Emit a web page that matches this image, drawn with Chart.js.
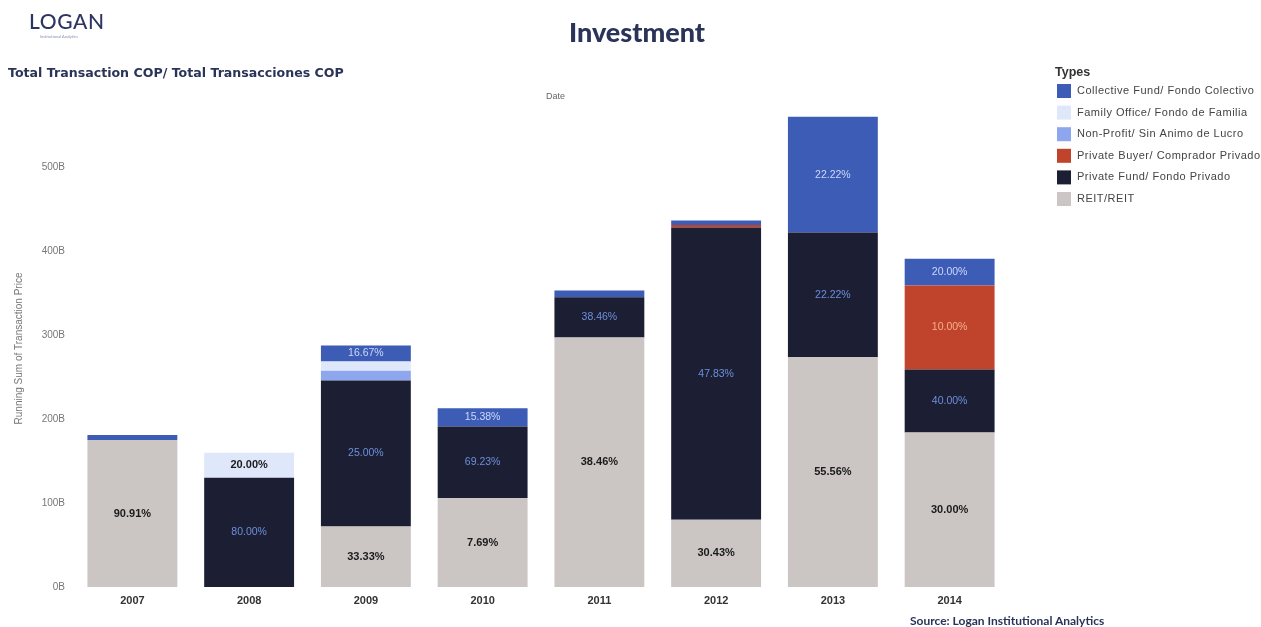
<!DOCTYPE html>
<html>
<head>
<meta charset="utf-8">
<script src="https://cdn.jsdelivr.net/npm/chart.js@4.4.1/dist/chart.umd.min.js"></script>
<style>
  body { margin: 0; background: #fff; }
  #wrap { position: relative; width: 1261px; height: 627px; overflow: hidden; }
  #investment { position: absolute; left: 0; top: 0; }
  .txt { position: absolute; white-space: nowrap; }
  #logo { left: 29px; top: 8px; font: 500 21px Lato, sans-serif; color: #2e3563; letter-spacing: 0.6px; }
  #logoSub { left: 40px; top: 34px; font: 4px Lato, sans-serif; color: #8a90b0; }
  #title { left: 0; width: 1274px; text-align: center; top: 15px; font: 900 27px Lato, sans-serif; color: #2a3358; }
  #subtitle { left: 8px; top: 65px; font: bold 12.6px "DejaVu Sans", sans-serif; color: #2a3358; }
  #dateLbl { left: 546px; top: 91px; font: 9px "Liberation Sans", Arial, sans-serif; color: #666; }
  #source { left: 910px; top: 613px; font: 700 12px Lato, sans-serif; color: #2a3358; }
</style>
</head>
<body>
<div id="wrap">
  <canvas id="investment" width="1261" height="627"></canvas>
  <div class="txt" id="logo">LOGAN</div>
  <div class="txt" id="logoSub">Institutional Analytics</div>
  <div class="txt" id="title">Investment</div>
  <div class="txt" id="subtitle">Total Transaction COP/ Total Transacciones COP</div>
  <div class="txt" id="dateLbl">Date</div>
  <div class="txt" id="source">Source: Logan Institutional Analytics</div>
</div>
<script>
// Years on the x axis
var years = ['2007', '2008', '2009', '2010', '2011', '2012', '2013', '2014'];

// Running sum of transaction price per type, in billions COP
var reit          = [175, 0, 72, 106, 297, 80, 274, 184];
var privateFund   = [0, 130, 174, 85, 48, 348, 148, 75];
var privateBuyer  = [0, 0, 0, 0, 0, 3, 0, 100];
var nonProfit     = [0, 0, 11.5, 0, 0, 0, 0, 0];
var familyOffice  = [0, 30, 11, 0, 0, 0, 0, 0];
var collective    = [6, 0, 19, 22, 8, 5.5, 138, 32];

// Share labels printed inside the segments ('' = no label)
var reitPct         = ['90.91%', '', '33.33%', '7.69%', '38.46%', '30.43%', '55.56%', '30.00%'];
var privateFundPct  = ['', '80.00%', '25.00%', '69.23%', '38.46%', '47.83%', '22.22%', '40.00%'];
var privateBuyerPct = ['', '', '', '', '', '', '', '10.00%'];
var nonProfitPct    = ['', '', '', '', '', '', '', ''];
var familyOfficePct = ['', '20.00%', '', '', '', '', '', ''];
var collectivePct   = ['', '', '16.67%', '15.38%', '', '', '22.22%', '20.00%'];

// Y axis tick values
var yTicks = [0, 100, 200, 300, 400, 500];

// Stack order bottom -> top
var series = [
    { label: 'REIT/REIT', data: reit, pct: reitPct, color: '#cbc5c4', text: '#1a1a1a', bold: true },
    { label: 'Private Fund/ Fondo Privado', data: privateFund, pct: privateFundPct, color: '#1c1f33', text: '#6d8fdc', bold: false },
    { label: 'Private Buyer/ Comprador Privado', data: privateBuyer, pct: privateBuyerPct, color: '#c0432b', text: '#f4b090', bold: false },
    { label: 'Non-Profit/ Sin Animo de Lucro', data: nonProfit, pct: nonProfitPct, color: '#8ea6ee', text: '#1a1a1a', bold: false },
    { label: 'Family Office/ Fondo de Familia', data: familyOffice, pct: familyOfficePct, color: '#dfe8fb', text: '#1a1a1a', bold: true },
    { label: 'Collective Fund/ Fondo Colectivo', data: collective, pct: collectivePct, color: '#3c5cb6', text: '#cdd8fa', bold: false }
];

// Percent labels centred in each segment
var segmentLabels = {
    id: 'segmentLabels',
    afterDatasetsDraw: function(chart) {
        var c = chart.ctx;
        c.save();
        c.textAlign = 'center';
        c.textBaseline = 'middle';
        series.forEach(function(s, i) {
            var meta = chart.getDatasetMeta(i);
            meta.data.forEach(function(bar, j) {
                var txt = s.pct[j];
                if (!txt) return;
                c.font = (s.bold ? 'bold 11px' : '10.5px') + ' "Liberation Sans", Arial, sans-serif';
                c.fillStyle = s.text;
                c.fillText(txt, bar.x, (bar.y + bar.base) / 2);
            });
        });
        c.restore();
    }
};

// "Types" legend on the right, listed top of stack first
var typesLegend = {
    id: 'typesLegend',
    afterDraw: function(chart) {
        var c = chart.ctx;
        var x = 1057, y = 91, step = 21.6;
        c.save();
        c.fillStyle = '#333';
        c.font = 'bold 12.5px "Liberation Sans", Arial, sans-serif';
        c.textBaseline = 'middle';
        c.fillText('Types', 1055, 73);
        c.font = '11px "Liberation Sans", Arial, sans-serif';
        c.letterSpacing = '0.5px';
        series.slice().reverse().forEach(function(s, k) {
            var cy = y + k * step;
            c.fillStyle = s.color;
            c.fillRect(x, cy - 7, 14, 14);
            c.fillStyle = '#444';
            c.fillText(s.label, x + 20, cy);
        });
        c.restore();
    }
};

var ctx = document.getElementById('investment').getContext('2d');

var myChart = new Chart(ctx, {
    type: 'bar',
    data: {
        labels: years,
        datasets: series.map(function(s) {
            return {
                label: s.label,
                data: s.data,
                backgroundColor: s.color,
                borderWidth: 0,
                barPercentage: 0.77,
                categoryPercentage: 1.0
            };
        })
    },
    options: {
        responsive: false,
        animation: false,
        devicePixelRatio: 1,
        layout: {
            padding: { left: 0, right: 253, top: 110, bottom: 10 }
        },
        scales: {
            x: {
                stacked: true,
                grid: { display: false, drawTicks: false },
                border: { display: false },
                ticks: {
                    autoSkip: false,
                    maxRotation: 0,
                    padding: 7,
                    color: '#333',
                    font: { family: '"Liberation Sans", Arial, sans-serif', size: 11, weight: 'bold' }
                },
                afterFit: function(scale) { scale.height = 30; }
            },
            y: {
                stacked: true,
                min: 0,
                max: 568,
                grid: { display: false, drawTicks: false },
                border: { display: false },
                afterBuildTicks: function(scale) {
                    scale.ticks = yTicks.map(function(v) { return { value: v }; });
                },
                ticks: {
                    padding: 9,
                    color: '#777',
                    font: { family: '"Liberation Sans", Arial, sans-serif', size: 10 },
                    callback: function(v) { return v + 'B'; }
                },
                title: {
                    display: true,
                    text: 'Running Sum of Transaction Price',
                    color: '#777',
                    padding: { top: 13, bottom: 0 },
                    font: { family: '"Liberation Sans", Arial, sans-serif', size: 10 }
                },
                afterFit: function(scale) { scale.width = 74; }
            }
        },
        plugins: {
            legend: { display: false },
            tooltip: { enabled: false }
        }
    },
    plugins: [segmentLabels, typesLegend]
});
</script>
</body>
</html>
